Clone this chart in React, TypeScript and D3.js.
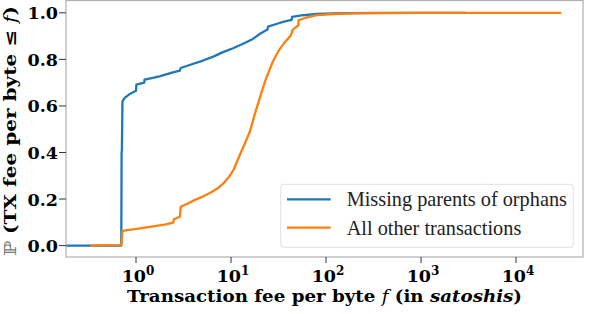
import React from "react";
import * as d3 from "d3";

// Missing parents of orphans (fee per byte, cumulative probability)
const orphanFee = [0.12, 0.70, 0.705, 0.71, 0.72, 0.76, 0.85, 1.0, 1.01, 1.22, 1.23, 1.55, 1.8, 2.5, 2.9, 2.95, 3.8, 5.07, 6.5, 8.24, 10.5, 13.4, 17, 20.2, 24.2, 24.5, 30, 36, 43.5, 44, 55, 80, 120, 178, 400, 1000, 3000];
const orphanCdf = [0.0, 0.0, 0.40, 0.41, 0.62, 0.635, 0.65, 0.665, 0.692, 0.70, 0.713, 0.722, 0.728, 0.745, 0.752, 0.763, 0.778, 0.795, 0.812, 0.831, 0.848, 0.867, 0.888, 0.910, 0.928, 0.941, 0.952, 0.962, 0.970, 0.983, 0.989, 0.995, 0.998, 0.999, 1.0, 1.0, 1.0];

// All other transactions
const otherFee = [0.33, 0.69, 0.705, 0.72, 0.8, 1.02, 1.4, 2.0, 2.47, 2.5, 2.9, 2.95, 3.4, 4.0, 5.0, 6.0, 7.2, 8.3, 9.5, 10.6, 12.4, 14.0, 15.8, 17.8, 20.2, 23.0, 27.5, 32.0, 37.0, 42.0, 43.5, 44.5, 51.0, 51.5, 60, 80, 120, 200, 400, 1000, 30000];
const otherCdf = [0.0, 0.002, 0.01, 0.062, 0.066, 0.072, 0.080, 0.090, 0.099, 0.113, 0.124, 0.167, 0.178, 0.193, 0.21, 0.226, 0.245, 0.267, 0.295, 0.324, 0.39, 0.44, 0.49, 0.565, 0.638, 0.71, 0.79, 0.84, 0.875, 0.9, 0.912, 0.927, 0.946, 0.968, 0.978, 0.99, 0.995, 0.998, 0.999, 1.0, 1.0];

const yTicks = [0, 0.2, 0.4, 0.6, 0.8, 1.0];
const xTickExps = [0, 1, 2, 3, 4];
const seriesNames = ["Missing parents of orphans", "All other transactions"];
const colors = ["#1f77b4", "#ff7f0e"];

export default function App() {
  const W = 598, H = 314;
  const left = 66, right = 583, top = 0.5, bottom = 257;
  const x = d3.scaleLog().domain([Math.pow(10, -0.737), Math.pow(10, 4.705)]).range([left, right]);
  const y = d3.scaleLinear().domain([-0.049, 1.053]).range([bottom, top]);
  const line = d3.line<[number, number]>().x(d => x(d[0])).y(d => y(d[1]));
  const s1: [number, number][] = orphanFee.map((f, i) => [f, orphanCdf[i]]);
  const s2: [number, number][] = otherFee.map((f, i) => [f, otherCdf[i]]);
  const tickFont = "'DejaVu Serif', serif";
  const axisColor = "#b0b0b0";
  return (
    <svg width={W} height={H} style={{ position: "absolute", left: 0, top: 0 }}>
      <rect x={0} y={0} width={W} height={H} fill="#fff" />
      <defs>
        <clipPath id="plotclip">
          <rect x={left} y={top} width={right - left} height={bottom - top} />
        </clipPath>
      </defs>
      <g clipPath="url(#plotclip)">
        <path d={line(s1) || ""} fill="none" stroke={colors[0]} strokeWidth={2.3} strokeLinejoin="round" />
        <path d={line(s2) || ""} fill="none" stroke={colors[1]} strokeWidth={2.3} strokeLinejoin="round" />
      </g>
      <rect x={left} y={top} width={right - left} height={bottom - top} fill="none" stroke={axisColor} strokeWidth={1.2} />
      {yTicks.map(t => (
        <g key={t}>
          <line x1={left - 7} x2={left} y1={y(t)} y2={y(t)} stroke="#333" strokeWidth={1} />
          <text x={left - 8} y={y(t)} dy="0.37em" textAnchor="end" fontFamily={tickFont} fontWeight="bold" fontSize={17.5}>{t.toFixed(1)}</text>
        </g>
      ))}
      {xTickExps.map(e => (
        <g key={e}>
          <line x1={x(Math.pow(10, e))} x2={x(Math.pow(10, e))} y1={bottom} y2={bottom + 6} stroke="#333" strokeWidth={1} />
          <text x={x(Math.pow(10, e)) + 2} y={282} textAnchor="middle" fontFamily={tickFont} fontWeight="bold" fontSize={17.5}>
            10<tspan dy={-7} fontSize={12}>{e}</tspan>
          </text>
        </g>
      ))}
      <text x={127} y={302} textLength={395} lengthAdjust="spacingAndGlyphs" fontFamily={tickFont} fontWeight="bold" fontSize={16.5}>
        Transaction fee per byte <tspan fontStyle="italic" fontWeight="normal">f</tspan> (in <tspan fontStyle="italic">satoshis</tspan>)
      </text>
      <text transform={`translate(16,256) rotate(-90)`} textLength={250} lengthAdjust="spacingAndGlyphs" fontFamily={tickFont} fontWeight="bold" fontSize={16.5}>
        <tspan fontWeight="normal" fill="#777">ℙ</tspan> (TX fee per byte ≤ <tspan fontStyle="italic" fontWeight="normal">f</tspan>)
      </text>
      <rect x={280.7} y={184.3} width={292.6} height={63} rx={3} fill="#fff" fillOpacity={0.8} stroke="#e0e0e0" strokeWidth={1} />
      {seriesNames.map((n, i) => (
        <g key={n}>
          <line x1={287} x2={330.7} y1={199.3 + i * 28.4} y2={199.3 + i * 28.4} stroke={colors[i]} strokeWidth={2.3} />
          <text x={346.7} y={206 + i * 28.6} fontFamily="'Liberation Serif', serif" fontSize={20.3} fill="#222">{n}</text>
        </g>
      ))}
    </svg>
  );
}
